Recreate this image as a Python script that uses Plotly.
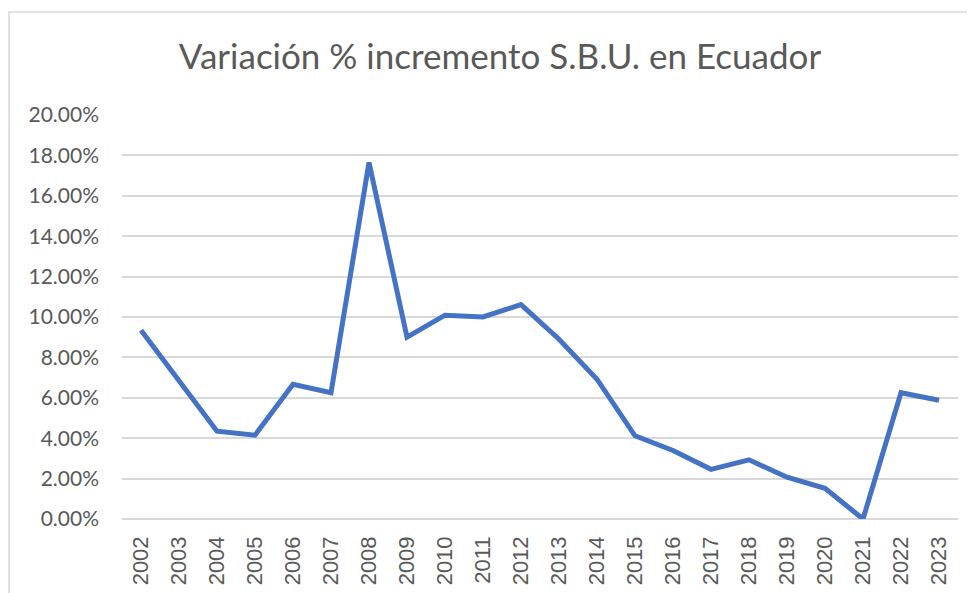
import plotly.graph_objects as go

years = [str(y) for y in range(2002, 2024)]
variacion = [0.0935, 0.0690, 0.0435, 0.0415, 0.0667, 0.0625, 0.1765, 0.0900,
             0.1009, 0.1000, 0.1061, 0.0890, 0.0692, 0.0412, 0.0339, 0.0246,
             0.0293, 0.0207, 0.0152, 0.0000, 0.0625, 0.0588]
y_ticks = [0.0, 0.02, 0.04, 0.06, 0.08, 0.10, 0.12, 0.14, 0.16, 0.18, 0.20]
title_text = "Variación % incremento S.B.U. en Ecuador"

fig = go.Figure()
fig.add_trace(go.Scatter(
    x=years, y=variacion, mode="lines",
    line=dict(color="#4472C4", width=5, shape="linear"),
    hoverinfo="x+y",
))

OFF = 8  # page body margin
W, H = 975, 593
L, T = 122 - OFF, 115 - OFF
R = W - (958 - OFF)
B = H - (519 - OFF)
pw, ph = W - L - R, H - T - B

fig.update_layout(
    width=W, height=H,
    margin=dict(l=L, r=R, t=T, b=B, pad=0),
    paper_bgcolor="white", plot_bgcolor="white",
    showlegend=False,
    title=dict(text=title_text, x=(500 - OFF) / W, xref="container",
               xanchor="center", y=1 - (57 - OFF) / H, yref="container", yanchor="middle",
               font=dict(family="Lato, Open Sans, sans-serif", size=35, color="#595959")),
    font=dict(family="Lato, Open Sans, sans-serif", color="#595959"),
    xaxis=dict(
        type="category", range=[-0.5, len(years) - 0.5],
        tickangle=-90, tickfont=dict(size=22, color="#595959", family="Liberation Sans, Arial, sans-serif"),
        showgrid=False, showline=False, zeroline=False, ticks="", ticklen=0,
        ticklabelstandoff=12,
        fixedrange=True,
    ),
    yaxis=dict(
        range=[0, 0.2], tickvals=y_ticks, tickformat=".2%",
        tickfont=dict(size=21, color="#595959", family="Lato, Open Sans, sans-serif"),
        showgrid=True, gridcolor="#D9D9D9", gridwidth=1.5,
        zeroline=True, zerolinecolor="#D9D9D9", zerolinewidth=1.5,
        showline=False, ticks="", ticklabelstandoff=22,
        fixedrange=True,
    ),
    shapes=[dict(
        type="rect", xref="paper", yref="paper",
        x0=(9 - 122) / pw, x1=1.2, y0=-0.4, y1=(519 - 12) / ph,
        line=dict(color="#D9D9D9", width=1.5), fillcolor="rgba(0,0,0,0)", layer="below",
    )],
)

fig.write_html("out.html")
